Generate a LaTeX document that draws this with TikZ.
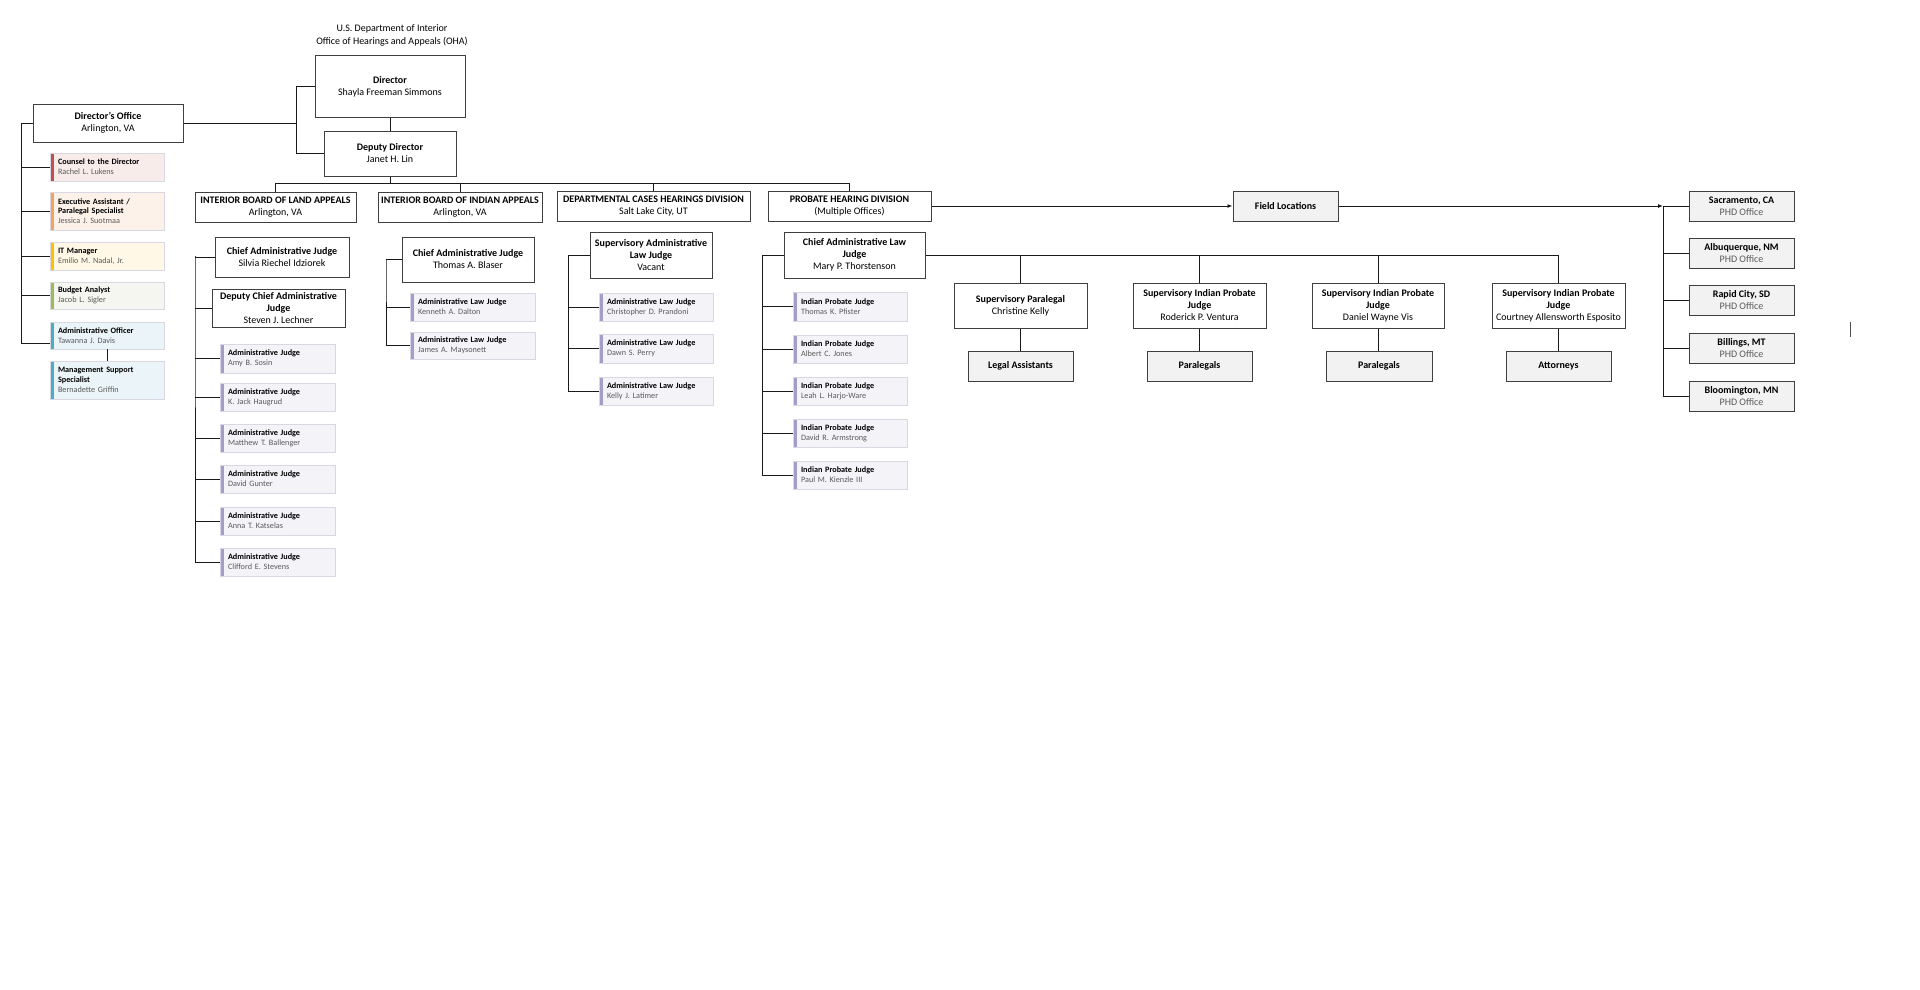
\documentclass[tikz,border=0pt]{standalone}
\usepackage{fontspec}
\setmainfont{Carlito}
\usetikzlibrary{arrows.meta}
\definecolor{boxline}{HTML}{3F3F3F}
\definecolor{namegray}{HTML}{5A5A5A}
\definecolor{cardline}{HTML}{D9D8E2}
\definecolor{judgefill}{HTML}{F4F3F8}
\definecolor{judgebar}{HTML}{A59CC8}
\definecolor{redfill}{HTML}{F8ECEB}
\definecolor{redbar}{HTML}{C0504D}
\definecolor{orafill}{HTML}{FDF2EA}
\definecolor{orabar}{HTML}{F5A15F}
\definecolor{yelfill}{HTML}{FFF8E6}
\definecolor{yelbar}{HTML}{FFC000}
\definecolor{grnfill}{HTML}{F4F6EF}
\definecolor{grnbar}{HTML}{9BBB59}
\definecolor{blufill}{HTML}{EBF4F8}
\definecolor{blubar}{HTML}{4BACC6}
\definecolor{fieldfill}{HTML}{F2F2F2}
\newcommand{\ob}[7]{%
  \node[#2, minimum width={#5-#3}, minimum height={#6-#4}] (#1) at ({(#3+#5)/2},{(#4+#6)/2}) {#7};}
\newcommand{\cardnode}[9]{%
  \pgfmathsetmacro{\tw}{#6-#4-16}%
  \node[card=#3, fill=#2, text width=\tw pt, minimum width={#6-#4}, minimum height={#7-#5}] (#1) at ({(#4+#6)/2},{(#5+#7)/2}) {\textbf{#8}\\\textcolor{namegray}{#9}};}
\tikzset{
  mainbox/.style={draw=boxline, line width=1pt, fill=white, align=center, inner sep=0pt,
    font=\fontsize{10}{12}\selectfont},
  fieldbox/.style={mainbox, fill=fieldfill},
  card/.style={draw=cardline, line width=0.7pt, inner sep=0pt, align=left,
    font=\fontsize{8.2}{9.8}\selectfont,
    path picture={\fill[#1] (path picture bounding box.north west) rectangle ([xshift=3.5pt]path picture bounding box.south west);}},
  conn/.style={draw=black!90, line width=0.9pt},
  arr/.style={conn, -{Latex[length=5pt,width=4pt]}}
}
\begin{document}
\begin{tikzpicture}[x=1pt,y=-1pt]
\useasboundingbox[fill=white] (0,0) rectangle (1920,990);

% title
\node[align=center, font=\fontsize{10}{13}\selectfont, inner sep=0pt] (title) at (392,35) {U.S. Department of Interior\\Office of Hearings and Appeals (OHA)};

% top level
\ob{dir}{mainbox}{315}{56}{465}{117}{\textbf{Director}\\Shayla Freeman Simmons}
\ob{dep}{mainbox}{324}{131}{456}{176}{\textbf{Deputy Director}\\Janet H. Lin}
\ob{dofc}{mainbox}{33}{104}{183}{142}{\textbf{Director’s Office}\\Arlington, VA}

\coordinate (jd) at (297,123);
\draw[conn] (dofc.east) -- (jd);
\draw[conn] (dir.west) -- ++(-18,0) |- (dep.west);
\draw[conn] (dir.south) -- (dep.south |- dir.south) -- (dep.north);

% director's office cards
\cardnode{cou}{redfill}{redbar}{50}{153}{164}{181}{Counsel to the Director}{Rachel L. Lukens}
\cardnode{exa}{orafill}{orabar}{50}{192}{164}{230}{Executive Assistant /\\Paralegal Specialist}{Jessica J. Suotmaa}
\cardnode{itm}{yelfill}{yelbar}{50}{242}{164}{270}{IT Manager}{Emilio M. Nadal, Jr.}
\cardnode{bud}{grnfill}{grnbar}{50}{282}{164}{309}{Budget Analyst}{Jacob L. Sigler}
\cardnode{adm}{blufill}{blubar}{50}{322}{164}{349}{Administrative Officer}{Tawanna J. Davis}
\cardnode{mss}{blufill}{blubar}{50}{361}{164}{399}{Management Support\\Specialist}{Bernadette Griffin}

\coordinate (dbb) at (21,343);
\draw[conn] (dofc.west) -| (dbb);
\draw[conn] (dbb) -- (adm.west |- dbb);
\foreach \c in {cou,exa,itm,bud} {\draw[conn] (\c.west -| dbb) -- (\c.west);}
\draw[conn] (adm.south) -- (mss.north);

% divisions
\ob{ibla}{mainbox}{195}{192}{356}{222}{\textbf{INTERIOR BOARD OF LAND APPEALS}\\Arlington, VA}
\ob{ibia}{mainbox}{378}{192}{542}{222}{\textbf{INTERIOR BOARD OF INDIAN APPEALS}\\Arlington, VA}
\ob{dchd}{mainbox}{557}{191}{750}{221}{\textbf{DEPARTMENTAL CASES HEARINGS DIVISION}\\Salt Lake City, UT}
\ob{phd}{mainbox}{768}{191}{931}{221}{\textbf{PROBATE HEARING DIVISION}\\(Multiple Offices)}

\coordinate (tb) at (390,183);
\draw[conn] (dep.south) -- (tb);
\draw[conn] (ibla.north |- tb) -- (phd.north |- tb);
\foreach \d in {ibla,ibia,dchd,phd} {\draw[conn] (\d.north |- tb) -- (\d.north);}

% IBLA
\ob{lch}{mainbox}{215}{237}{349}{277}{\textbf{Chief Administrative Judge}\\Silvia Riechel Idziorek}
\ob{ldc}{mainbox}{212}{289}{345}{327}{\textbf{Deputy Chief Administrative}\\\textbf{Judge}\\Steven J. Lechner}
\cardnode{l1}{judgefill}{judgebar}{220}{344}{335}{373}{Administrative Judge}{Amy B. Sosin}
\cardnode{l2}{judgefill}{judgebar}{220}{383}{335}{411}{Administrative Judge}{K. Jack Haugrud}
\cardnode{l3}{judgefill}{judgebar}{220}{424}{335}{452}{Administrative Judge}{Matthew T. Ballenger}
\cardnode{l4}{judgefill}{judgebar}{220}{465}{335}{493}{Administrative Judge}{David Gunter}
\cardnode{l5}{judgefill}{judgebar}{220}{507}{335}{535}{Administrative Judge}{Anna T. Katselas}
\cardnode{l6}{judgefill}{judgebar}{220}{548}{335}{576}{Administrative Judge}{Clifford E. Stevens}
\coordinate (lb) at (195,256);
\draw[conn] (lch.west) -| (lb) -- (lb |- l6.west) -- (l6.west);
\foreach \c in {ldc,l1,l2,l3,l4,l5} {\draw[conn] (\c.west -| lb) -- (\c.west);}

% IBIA
\ob{ich}{mainbox}{402}{237}{534}{282}{\textbf{Chief Administrative Judge}\\Thomas A. Blaser}
\cardnode{i1}{judgefill}{judgebar}{410}{293}{535}{321}{Administrative Law Judge}{Kenneth A. Dalton}
\cardnode{i2}{judgefill}{judgebar}{410}{332}{535}{359}{Administrative Law Judge}{James A. Maysonett}
\coordinate (ib) at (386,259);
\draw[conn] (ich.west) -| (ib) -- (ib |- i2.west) -- (i2.west);
\draw[conn] (i1.west -| ib) -- (i1.west);

% DCHD
\ob{dsup}{mainbox}{590}{232}{712}{278}{\textbf{Supervisory Administrative}\\\textbf{Law Judge}\\Vacant}
\cardnode{d1}{judgefill}{judgebar}{599}{293}{713}{321}{Administrative Law Judge}{Christopher D. Prandoni}
\cardnode{d2}{judgefill}{judgebar}{599}{334}{713}{363}{Administrative Law Judge}{Dawn S. Perry}
\cardnode{d3}{judgefill}{judgebar}{599}{377}{713}{405}{Administrative Law Judge}{Kelly J. Latimer}
\coordinate (db) at (568,255);
\draw[conn] (dsup.west) -| (db) -- (db |- d3.west) -- (d3.west);
\foreach \c in {d1,d2} {\draw[conn] (\c.west -| db) -- (\c.west);}

% PHD
\ob{pch}{mainbox}{784}{232}{925}{278}{\textbf{Chief Administrative Law}\\\textbf{Judge}\\Mary P. Thorstenson}
\cardnode{p1}{judgefill}{judgebar}{793}{292}{907}{321}{Indian Probate Judge}{Thomas K. Pfister}
\cardnode{p2}{judgefill}{judgebar}{793}{335}{907}{363}{Indian Probate Judge}{Albert C. Jones}
\cardnode{p3}{judgefill}{judgebar}{793}{377}{907}{405}{Indian Probate Judge}{Leah L. Harjo-Ware}
\cardnode{p4}{judgefill}{judgebar}{793}{419}{907}{447}{Indian Probate Judge}{David R. Armstrong}
\cardnode{p5}{judgefill}{judgebar}{793}{461}{907}{489}{Indian Probate Judge}{Paul M. Kienzle III}
\coordinate (pb) at (762,255);
\draw[conn] (pch.west) -| (pb) -- (pb |- p5.west) -- (p5.west);
\foreach \c in {p1,p2,p3,p4} {\draw[conn] (\c.west -| pb) -- (\c.west);}

% PHD supervisory row
\ob{s1}{mainbox}{954}{283}{1087}{328}{\textbf{Supervisory Paralegal}\\Christine Kelly}
\ob{s2}{mainbox}{1133}{283}{1266}{328}{\textbf{Supervisory Indian Probate}\\\textbf{Judge}\\Roderick P. Ventura}
\ob{s3}{mainbox}{1312}{283}{1444}{328}{\textbf{Supervisory Indian Probate}\\\textbf{Judge}\\Daniel Wayne Vis}
\ob{s4}{mainbox}{1492}{283}{1625}{328}{\textbf{Supervisory Indian Probate}\\\textbf{Judge}\\Courtney Allensworth Esposito}
\ob{t1}{fieldbox}{968}{351}{1073}{381}{\textbf{Legal Assistants}}
\ob{t2}{fieldbox}{1147}{351}{1252}{381}{\textbf{Paralegals}}
\ob{t3}{fieldbox}{1326}{351}{1432}{381}{\textbf{Paralegals}}
\ob{t4}{fieldbox}{1506}{351}{1611}{381}{\textbf{Attorneys}}
\coordinate (pe) at (1558.5,255);
\draw[conn] (pch.east) -- (pch.east -| pe);
\foreach \s/\t in {s1/t1,s2/t2,s3/t3,s4/t4} {
  \draw[conn] (\s.north |- pe) -- (\s.north);
  \draw[conn] (\s.south) -- (\s.south |- \t.north);
}

% field locations
\ob{fl}{fieldbox}{1233}{191}{1338}{221}{\textbf{Field Locations}}
\draw[arr] (phd.east) -- (fl.west);
\ob{sac}{fieldbox}{1689}{191}{1794}{221}{\textbf{Sacramento, CA}\\\textcolor{namegray}{PHD Office}}
\ob{alb}{fieldbox}{1689}{238}{1794}{268}{\textbf{Albuquerque, NM}\\\textcolor{namegray}{PHD Office}}
\ob{rap}{fieldbox}{1689}{285}{1794}{315}{\textbf{Rapid City, SD}\\\textcolor{namegray}{PHD Office}}
\ob{bil}{fieldbox}{1689}{333}{1794}{363}{\textbf{Billings, MT}\\\textcolor{namegray}{PHD Office}}
\ob{blo}{fieldbox}{1689}{381}{1794}{411}{\textbf{Bloomington, MN}\\\textcolor{namegray}{PHD Office}}
\coordinate (fb) at (1663,206);
\draw[arr] (fl.east) -- (fb);
\draw[conn] (fb) -- (sac.west);
\draw[conn] (fb) |- (blo.west);
\foreach \c in {alb,rap,bil} {\draw[conn] (\c.west -| fb) -- (\c.west);}

% stray mark
\draw[black!70, line width=0.8pt] (1850,322) -- (1850,337);
\end{tikzpicture}
\end{document}
